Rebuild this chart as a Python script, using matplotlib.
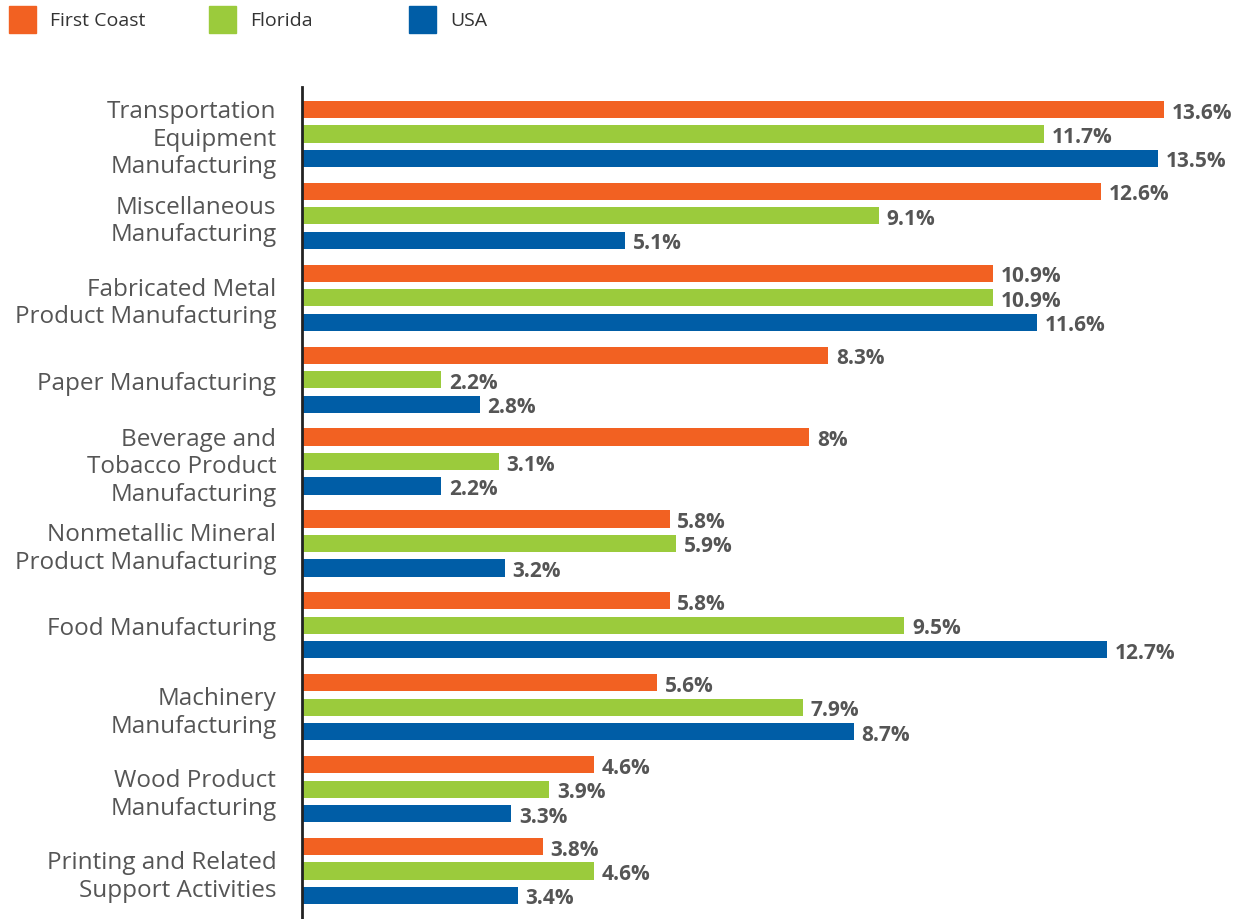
import matplotlib
matplotlib.use("Agg")
import matplotlib.pyplot as plt
from matplotlib.patches import Rectangle
import numpy as np

plt.rcParams['font.family'] = ['Open Sans', 'DejaVu Sans']

categories = [
    "Transportation\nEquipment\nManufacturing",
    "Miscellaneous\nManufacturing",
    "Fabricated Metal\nProduct Manufacturing",
    "Paper Manufacturing",
    "Beverage and\nTobacco Product\nManufacturing",
    "Nonmetallic Mineral\nProduct Manufacturing",
    "Food Manufacturing",
    "Machinery\nManufacturing",
    "Wood Product\nManufacturing",
    "Printing and Related\nSupport Activities",
]
first_coast = [13.6, 12.6, 10.9, 8.3, 8, 5.8, 5.8, 5.6, 4.6, 3.8]
florida = [11.7, 9.1, 10.9, 2.2, 3.1, 5.9, 9.5, 7.9, 3.9, 4.6]
usa = [13.5, 5.1, 11.6, 2.8, 2.2, 3.2, 12.7, 8.7, 3.3, 3.4]

series = ["First Coast", "Florida", "USA"]
colors = ["#F26122", "#9BCB3C", "#005DA6"]
text_gray = "#555555"

W, H = 1252, 920
fig = plt.figure(figsize=(W / 100, H / 100), dpi=100)
ax = fig.add_axes([302 / W, 0, (1240 - 302) / W, (920 - 88) / H])

px_per_pct = 63.4
ax.set_xlim(0, (1240 - 302) / px_per_pct)
ax.set_ylim(9.586, -0.574)

y = np.arange(len(categories))
offset = 0.299
height = 0.21
for vals, col, off in zip([first_coast, florida, usa], colors, [-offset, 0, offset]):
    ax.barh(y + off, vals, height=height, color=col)
    for yi, v in zip(y, vals):
        ax.annotate(f"{v:g}%", (v, yi + off), xytext=(5.5, 0), textcoords="offset points",
                    ha="left", va="center_baseline", fontsize=15, fontweight="bold",
                    color=text_gray)

ax.set_yticks(y)
ax.set_yticklabels(categories, fontsize=17.5, color=text_gray, linespacing=1.2)
ax.tick_params(axis="y", length=0, pad=18.5)
ax.set_xticks([])
for s in ["top", "right", "bottom"]:
    ax.spines[s].set_visible(False)
ax.spines["left"].set_color("#222222")
ax.spines["left"].set_linewidth(2)

# legend squares along the top
for i, (name, col) in enumerate(zip(series, colors)):
    x0 = 9 + 200 * i
    fig.patches.append(Rectangle((x0 / W, 1 - 34 / H), 27 / W, 27 / H,
                                 transform=fig.transFigure, color=col))
    fig.text((x0 + 41) / W, 1 - 20.5 / H, name, fontsize=14, color="#333333",
             ha="left", va="center")

fig.savefig("out.png", dpi=100)
